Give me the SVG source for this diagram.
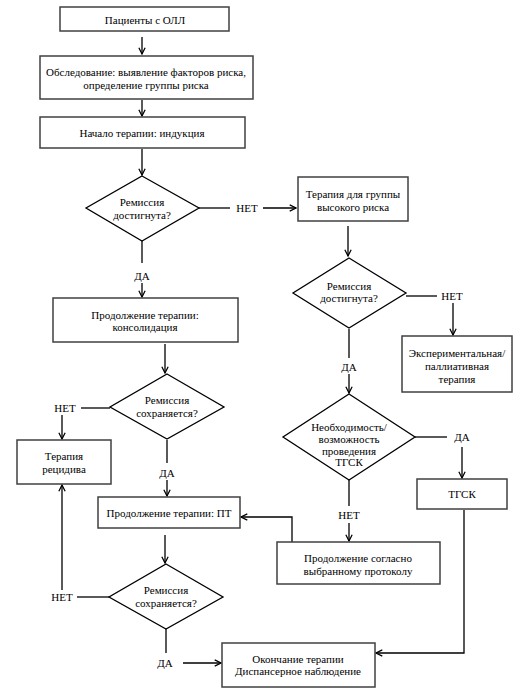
<svg xmlns="http://www.w3.org/2000/svg" width="521" height="691" viewBox="0 0 521 691" font-family="Liberation Serif, Times New Roman, Times, serif">
<style>
.box{fill:#fff;stroke:#404040;stroke-width:1.5}
.dia{fill:#fff;stroke:#000;stroke-width:1.3}
.ln{fill:none;stroke:#000;stroke-width:1.3}
.ar{fill:none;stroke:#000;stroke-width:1.3;marker-end:url(#ah)}
text{font-size:11px;fill:#000;text-anchor:middle;dominant-baseline:central}
</style>
<defs>
<marker id="ah" markerUnits="userSpaceOnUse" viewBox="0 0 10 10" refX="9" refY="5" markerWidth="9" markerHeight="9" orient="auto">
<path d="M2,1.5 L9,5 L2,8.5" fill="none" stroke="#000" stroke-width="1.4"/>
</marker>
</defs>
<rect width="521" height="691" fill="#fff"/>
<g id="connectors">
<line class="ar" x1="142" y1="37" x2="142" y2="54"/>
<line class="ar" x1="142" y1="100" x2="142" y2="116"/>
<line class="ar" x1="142" y1="149" x2="142" y2="175"/>
<line class="ln" x1="199" y1="208" x2="230" y2="208"/>
<text x="247" y="208">НЕТ</text>
<line class="ar" x1="263" y1="208" x2="296" y2="208"/>
<line class="ln" x1="142" y1="241" x2="142" y2="263"/>
<text x="142" y="276">ДА</text>
<line class="ar" x1="142" y1="283" x2="142" y2="297"/>
<line class="ar" x1="348" y1="226" x2="348" y2="256"/>
<line class="ln" x1="406" y1="296" x2="437" y2="296"/>
<text x="452" y="296">НЕТ</text>
<line class="ar" x1="453" y1="303" x2="453" y2="335"/>
<line class="ln" x1="349" y1="329" x2="349" y2="358"/>
<text x="349" y="367">ДА</text>
<line class="ar" x1="349" y1="374" x2="349" y2="393"/>
<line class="ln" x1="415" y1="437" x2="447" y2="437"/>
<text x="462" y="437">ДА</text>
<line class="ar" x1="462" y1="447" x2="462" y2="478"/>
<polyline class="ar" points="464,510 464,653 376,653"/>
<line class="ln" x1="349" y1="479" x2="349" y2="506"/>
<text x="349" y="515">НЕТ</text>
<line class="ar" x1="349" y1="523" x2="349" y2="541"/>
<polyline class="ar" points="292,542 292,517 241,517"/>
<line class="ar" x1="165" y1="344" x2="165" y2="373"/>
<line class="ln" x1="110" y1="408" x2="81" y2="408"/>
<text x="65" y="408">НЕТ</text>
<line class="ar" x1="62" y1="415" x2="62" y2="439"/>
<line class="ln" x1="167" y1="440" x2="167" y2="463"/>
<text x="167" y="473">ДА</text>
<line class="ar" x1="167" y1="480" x2="167" y2="496"/>
<line class="ar" x1="165" y1="535" x2="165" y2="563"/>
<line class="ln" x1="109" y1="597" x2="77" y2="597"/>
<text x="62" y="597">НЕТ</text>
<line class="ar" x1="62" y1="590" x2="62" y2="485"/>
<line class="ln" x1="166" y1="629" x2="166" y2="653"/>
<text x="165" y="663">ДА</text>
<line class="ar" x1="183" y1="663" x2="221" y2="663"/>
</g>
<g id="n1"><rect class="box" x="60" y="7" width="169" height="24"/><text x="145" y="19.5">Пациенты с ОЛЛ</text></g>
<g id="n2"><rect class="box" x="40" y="56" width="213" height="43"/><text x="146" y="72">Обследование: выявление факторов риска,</text><text x="146" y="85">определение группы риска</text></g>
<g id="n3"><rect class="box" x="40" y="117" width="205" height="31"/><text x="142" y="133">Начало терапии: индукция</text></g>
<g id="d1"><polygon class="dia" points="142,176 199,208 142,241 86,208"/><text x="142" y="202">Ремиссия</text><text x="142" y="215">достигнута?</text></g>
<g id="n4"><rect class="box" x="298" y="177" width="110" height="44"/><text x="353" y="194">Терапия для группы</text><text x="353" y="207">высокого риска</text></g>
<g id="d2"><polygon class="dia" points="349,258 406,293 349,328 293,293"/><text x="349" y="286">Ремиссия</text><text x="349" y="298">достигнута?</text></g>
<g id="n5"><rect class="box" x="402" y="336" width="110" height="56"/><text x="457" y="353">Экспериментальная/</text><text x="457" y="366">паллиативная</text><text x="457" y="379">терапия</text></g>
<g id="d3"><polygon class="dia" points="349,394 415,437 349,480 283,437"/><text x="349" y="427" font-size="10.5">Необходимость/</text><text x="349" y="439" font-size="10.5">возможность</text><text x="349" y="451" font-size="10.5">проведения</text><text x="349" y="462" font-size="10.5">ТГСК</text></g>
<g id="n6"><rect class="box" x="417" y="479" width="90" height="30"/><text x="462" y="494">ТГСК</text></g>
<g id="n7"><rect class="box" x="277" y="542" width="163" height="42"/><text x="358" y="558">Продолжение согласно</text><text x="358" y="571">выбранному протоколу</text></g>
<g id="n8"><rect class="box" x="53" y="298" width="185" height="44"/><text x="145" y="315">Продолжение терапии:</text><text x="145" y="327">консолидация</text></g>
<g id="d4"><polygon class="dia" points="167,374 224,407 167,439 110,407"/><text x="167" y="400">Ремиссия</text><text x="167" y="413">сохраняется?</text></g>
<g id="n9"><rect class="box" x="17" y="440" width="94" height="44"/><text x="64" y="456">Терапия</text><text x="64" y="469">рецидива</text></g>
<g id="n10"><rect class="box" x="98" y="497" width="142" height="31"/><text x="169" y="513">Продолжение терапии: ПТ</text></g>
<g id="d5"><polygon class="dia" points="166,564 223,597 166,629 109,597"/><text x="166" y="590">Ремиссия</text><text x="166" y="603">сохраняется?</text></g>
<g id="n11"><rect class="box" x="222" y="643" width="153" height="44"/><text x="298" y="659">Окончание терапии</text><text x="298" y="671">Диспансерное наблюдение</text></g>
</svg>
